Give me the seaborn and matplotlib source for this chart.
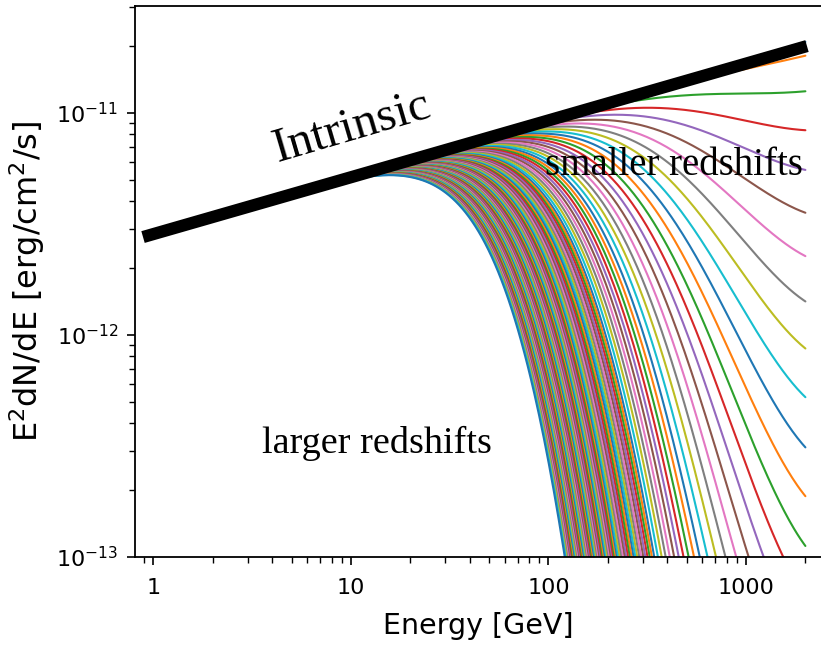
import numpy as np
import pandas as pd
import matplotlib
matplotlib.use("Agg")
import matplotlib.pyplot as plt
import seaborn as sns
from matplotlib.ticker import LogLocator, NullFormatter

# ---------------- data ----------------
# source redshifts of the attenuated spectra (one curve each)
redshifts = [
    0.00, 0.01, 0.02, 0.03, 0.04, 0.05, 0.06, 0.07, 0.08, 0.09,
    0.10, 0.11, 0.12, 0.13, 0.14, 0.15, 0.16, 0.17, 0.18, 0.19,
    0.20, 0.21, 0.22, 0.23, 0.24, 0.25, 0.26, 0.27, 0.28, 0.29,
    0.30, 0.31, 0.32, 0.33, 0.34, 0.35, 0.36, 0.37, 0.38, 0.39,
    0.40, 0.41, 0.42, 0.43, 0.44, 0.45, 0.46, 0.47, 0.48, 0.49,
    0.50, 0.51, 0.52, 0.53, 0.54, 0.55, 0.56, 0.57, 0.58, 0.59,
    0.60, 0.61, 0.62, 0.63, 0.64, 0.65, 0.66, 0.67, 0.68, 0.69,
    0.70, 0.71, 0.72, 0.73, 0.74, 0.75, 0.76, 0.77, 0.78, 0.79,
    0.80, 0.81, 0.82, 0.83, 0.84, 0.85, 0.86, 0.87, 0.88, 0.89,
    0.90, 0.91, 0.92, 0.93, 0.94, 0.95, 0.96, 0.97, 0.98, 0.99,
    1.00,
]

# intrinsic spectrum  E^2 dN/dE = norm * (E/GeV)^index
intrinsic_norm = 2.85e-12
intrinsic_index = 0.262

# optical-depth amplitude at a few redshifts
tau_z = [0.01, 0.02, 0.03, 0.05, 0.10, 0.12, 0.13, 0.20, 0.30, 0.50, 1.00]
tau_amp = [0.097, 0.346, 0.616, 1.18, 2.74, 3.38, 3.71, 6.2, 9.0, 11.4, 13.6]
# optical-depth energy shape (log-parabola in redshifted energy)
tau_pivot = 1000.0
tau_beta = 1.5
tau_slope = 0.73
tau_curv = 0.60

energy_range = [1.0, 2000.0]

# hand-drawn "Intrinsic" bar
bar_E = [0.885, 2037.0]
bar_F = [2.76e-12, 2.0e-11]

xticks = [1, 10, 100, 1000]
xticklabels = ["1", "10", "100", "1000"]
yticks = [1e-13, 1e-12, 1e-11]
yticklabels = [r"$10^{-13}$", r"$10^{-12}$", r"$10^{-11}$"]

# ---------------- build table ----------------
E = np.logspace(np.log10(energy_range[0]), np.log10(energy_range[1]), 400)
frames = []
for i, z in enumerate(redshifts):
    if z <= 0:
        tau = np.zeros_like(E)
    else:
        A = 10 ** np.interp(np.log10(z), np.log10(tau_z), np.log10(tau_amp))
        u = np.log10(E * (1 + z) ** tau_beta / tau_pivot)
        tau = A * 10 ** (tau_slope * u - tau_curv * u ** 2)
    F = intrinsic_norm * E ** intrinsic_index * np.exp(-tau)
    F = np.maximum(F, 1e-16)
    frames.append(pd.DataFrame({"E": E, "F": F, "curve": i}))
df = pd.concat(frames, ignore_index=True)

tab10 = sns.color_palette("tab10", 10)
palette = {i: tab10[i % 10] for i in range(len(redshifts))}

# ---------------- plot ----------------
sns.set_style("ticks")
plt.rcParams["font.family"] = ["DejaVu Sans"]
plt.rcParams["text.color"] = "black"
plt.rcParams["axes.labelcolor"] = "black"
plt.rcParams["xtick.color"] = "black"
plt.rcParams["ytick.color"] = "black"

W, H = 821, 646
fig = plt.figure(figsize=(W / 100, H / 100), dpi=100)
ax = fig.add_axes([135 / W, 1 - 557 / H, (W - 135) / W, (557 - 6) / H])
ax.set_xscale("log")
ax.set_yscale("log")

sns.lineplot(data=df, x="E", y="F", hue="curve", hue_order=list(range(len(redshifts))),
             palette=palette, estimator=None, sort=False, legend=False,
             linewidth=1.5, ax=ax)

ax.plot(bar_E, bar_F, color="black", lw=8.8, solid_capstyle="butt", zorder=5)

ax.set_xlim(0.806, 2399)
ax.set_ylim(1e-13, 3.03e-11)

ax.set_xticks(xticks)
ax.set_xticklabels(xticklabels)
ax.set_yticks(yticks)
ax.set_yticklabels(yticklabels)
ax.xaxis.set_minor_locator(LogLocator(base=10, subs=np.arange(2, 10)))
ax.yaxis.set_minor_locator(LogLocator(base=10, subs=np.arange(2, 10)))
ax.xaxis.set_minor_formatter(NullFormatter())
ax.yaxis.set_minor_formatter(NullFormatter())

ax.tick_params(which="major", length=6, width=1.2, labelsize=16,
               colors="black", labelcolor="black")
ax.tick_params(which="minor", length=4, width=1.0, colors="black")
ax.tick_params(axis="x", which="major", pad=9)
ax.tick_params(axis="y", which="major", pad=6)

for side in ["left", "bottom", "top"]:
    ax.spines[side].set_linewidth(1.3)
    ax.spines[side].set_color("black")
ax.spines["right"].set_visible(False)

ax.set_xlabel("Energy [GeV]", fontsize=20.5, labelpad=10, color="black")
ax.set_ylabel(r"E$^2$dN/dE [erg/cm$^2$/s]", fontsize=23, labelpad=7, color="black")

serif = ["Liberation Serif", "DejaVu Serif"]
ax.text(4.22, 6.01e-12, "Intrinsic", rotation=16.4, rotation_mode="anchor",
        ha="left", va="baseline", fontsize=35, family=serif, color="black", zorder=6)
ax.text(96, 5.26e-12, "smaller redshifts", ha="left", va="baseline",
        fontsize=28, family=serif, color="black", zorder=6)
ax.text(3.54, 2.94e-13, "larger redshifts", ha="left", va="baseline",
        fontsize=27.5, family=serif, color="black", zorder=6)

fig.savefig("out.png", dpi=100)
